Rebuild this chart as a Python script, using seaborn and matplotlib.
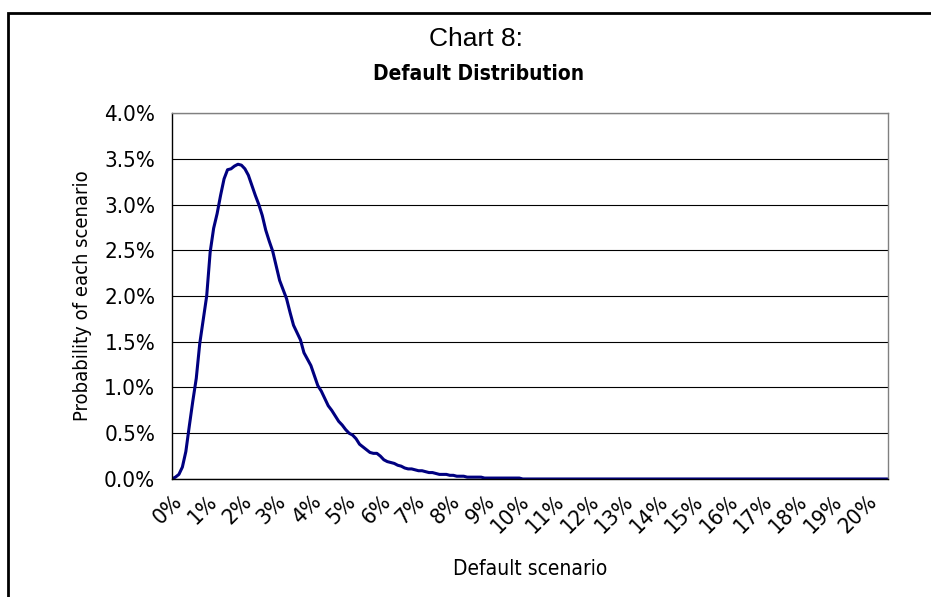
import matplotlib

matplotlib.use("Agg")
import matplotlib.pyplot as plt
import numpy as np
import pandas as pd
import seaborn as sns
from matplotlib.patches import Rectangle

# default scenario (% of pool), 0.1% steps
scenario = np.round(np.arange(0, 20.61, 0.1), 1)

prob_head = [
    0.00, 0.02, 0.05, 0.13, 0.30, 0.58, 0.85, 1.10, 1.48, 1.74,
    2.00, 2.48, 2.74, 2.90, 3.10, 3.28, 3.38, 3.39, 3.42, 3.44,
    3.43, 3.39, 3.32, 3.21, 3.10, 3.00, 2.88, 2.72, 2.60, 2.49,
    2.33, 2.17, 2.07, 1.97, 1.82, 1.68, 1.60, 1.52, 1.38, 1.31,
    1.24, 1.13, 1.02, 0.96, 0.88, 0.80, 0.75, 0.69, 0.63, 0.59,
    0.54, 0.50, 0.48, 0.44, 0.38, 0.35, 0.32, 0.29, 0.28, 0.28,
    0.25, 0.21, 0.19, 0.18, 0.17, 0.15, 0.14, 0.12, 0.11, 0.11,
    0.10, 0.09, 0.09, 0.08, 0.07, 0.07, 0.06, 0.05, 0.05, 0.05,
    0.04, 0.04, 0.03, 0.03, 0.03, 0.02, 0.02, 0.02, 0.02, 0.02,
    0.01, 0.01, 0.01, 0.01, 0.01, 0.01, 0.01, 0.01, 0.01, 0.01,
    0.01,
]
# flat at zero beyond 10%
prob_tail = [0.0] * (len(scenario) - len(prob_head))
probability = prob_head + prob_tail

x_ticks = list(range(0, 21))
x_labels = [f"{t}%" for t in x_ticks]
y_ticks = [0.0, 0.5, 1.0, 1.5, 2.0, 2.5, 3.0, 3.5, 4.0]
y_labels = [f"{t:.1f}%" for t in y_ticks]

df = pd.DataFrame({"scenario": scenario, "probability": probability})

sns.set_style("white")
plt.rcParams["font.family"] = ["DejaVu Sans"]
plt.rcParams["font.stretch"] = "condensed"
plt.rcParams["text.color"] = "black"
plt.rcParams["axes.labelcolor"] = "black"
plt.rcParams["xtick.color"] = "black"
plt.rcParams["ytick.color"] = "black"

fig, ax = plt.subplots(figsize=(9.31, 5.97), dpi=100)
fig.subplots_adjust(left=0.1847, right=0.954, bottom=0.1977, top=0.8107)

sns.lineplot(data=df, x="scenario", y="probability", color="#000080", linewidth=2.2, ax=ax)

ax.set_xlim(0, 20.62)
ax.set_ylim(0, 4.0)
ax.set_yticks(y_ticks)
ax.set_yticklabels(y_labels, fontsize=16)
ax.set_xticks(x_ticks)
ax.set_xticklabels(x_labels, fontsize=16, rotation=45, ha="right", rotation_mode="anchor")
ax.tick_params(axis="y", direction="out", length=8, width=1, color="black", pad=4)
ax.tick_params(axis="x", direction="out", length=6, width=1, color="black", pad=3)

ax.yaxis.grid(True, color="black", linewidth=0.8)
ax.xaxis.grid(False)
ax.set_axisbelow(True)

for side in ["left", "bottom"]:
    ax.spines[side].set_color("black")
    ax.spines[side].set_linewidth(1.0)
for side in ["top", "right"]:
    ax.spines[side].set_visible(True)
    ax.spines[side].set_color("#808080")
    ax.spines[side].set_linewidth(1.0)

ax.set_xlabel("Default scenario", fontsize=15, labelpad=16)
ax.set_ylabel("Probability of each scenario", fontsize=14.5, labelpad=9)

fig.text(0.511, 1 - 39 / 597, "Chart 8:", fontsize=19, ha="center", va="center",
         family=["Liberation Sans", "DejaVu Sans"], stretch="normal")
fig.text(0.5145, 1 - 74 / 597, "Default Distribution", fontsize=15, fontweight="bold",
         ha="center", va="center")

# outer frame of the exhibit
frame = Rectangle((8 / 931, -0.1), 1.2, 1 - 13 / 597 + 0.1, transform=fig.transFigure,
                  fill=False, edgecolor="black", linewidth=2, clip_on=False)
fig.patches.append(frame)

fig.savefig("out.png", dpi=100)
